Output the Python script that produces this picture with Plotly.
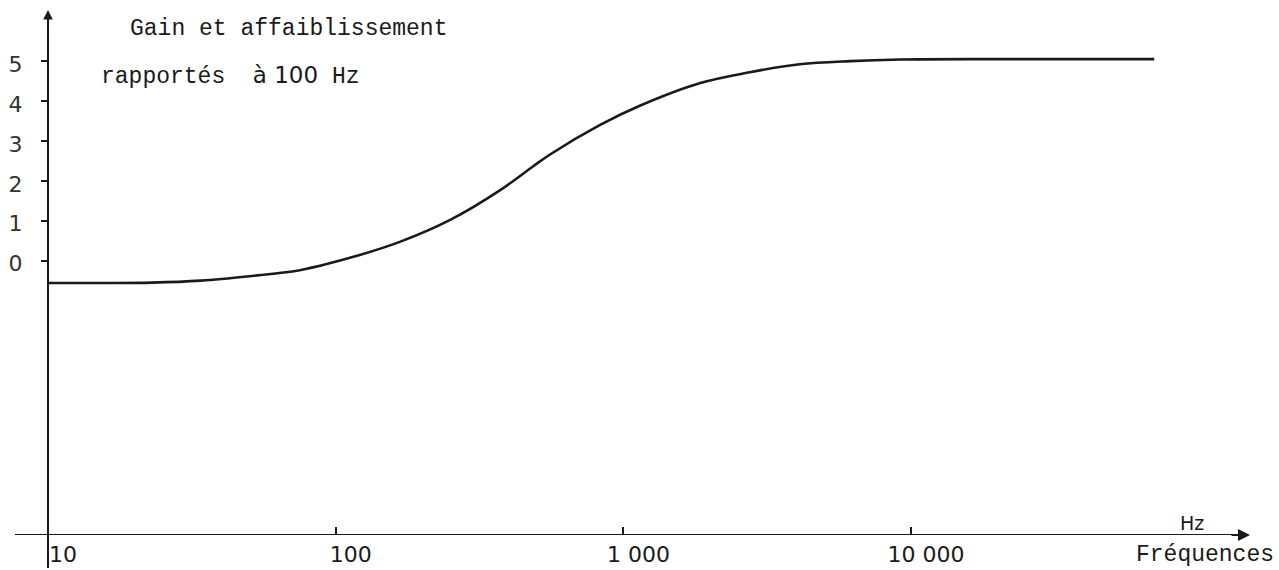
import plotly.graph_objects as go

# Data (frequency in Hz, gain in dB relative to 100 Hz)
freq_hz = [10, 15, 23, 34, 50, 75, 112, 167, 250, 372, 485, 556, 830, 1140,
           1850, 2750, 4100, 6150, 9150, 20000, 70000]
gain_db = [-0.56, -0.56, -0.55, -0.50, -0.39, -0.24, 0.07, 0.47, 1.02, 1.76,
           2.36, 2.66, 3.40, 3.88, 4.45, 4.72, 4.92, 5.00, 5.04, 5.05, 5.05]

x_tick_vals = [10, 100, 1000, 10000]
x_tick_text = ["10", "100", "1 000", "10 000"]
y_tick_vals = [0, 1, 2, 3, 4, 5]
y_tick_text = ["0", "1", "2", "3", "4", "5"]

INK = "#1a1a1a"
MONO = "Liberation Mono, Courier New, monospace"
SANS = "DejaVu Sans, Liberation Sans, sans-serif"

W, H = 1279, 570
L, R, T, B = 48, 29, 10, 35
pw, ph = W - L - R, H - T - B


def px(xp):
    return (xp - L) / pw


def py(yp):
    return 1 - (yp - T) / ph


fig = go.Figure()
fig.add_trace(go.Scatter(
    x=freq_hz, y=gain_db, mode="lines",
    line=dict(color=INK, width=2.6, shape="spline", smoothing=1.0),
    hoverinfo="skip", showlegend=False,
))

x_lo, x_hi = 1.0, 5.178
y_lo, y_hi = -6.875, 6.28

fig.update_layout(
    width=W, height=H,
    margin=dict(l=L, r=R, t=T, b=B, autoexpand=False),
    paper_bgcolor="white", plot_bgcolor="white",
    xaxis=dict(
        type="log", range=[x_lo, x_hi], automargin=False,
        tickvals=x_tick_vals, ticktext=x_tick_text,
        ticks="inside", ticklen=8, tickwidth=1.5, tickcolor=INK,
        showline=False, showgrid=False, zeroline=False,
        tickfont=dict(family=SANS, size=22, color=INK),
        ticklabelstandoff=4, ticklabelshift=15,
    ),
    yaxis=dict(
        range=[y_lo, y_hi], automargin=False,
        tickvals=y_tick_vals, ticktext=y_tick_text,
        ticks="outside", ticklen=6, tickwidth=1.5, tickcolor=INK,
        showline=False, showgrid=False, zeroline=False,
        tickfont=dict(family=SANS, size=22, color="#333333"),
        ticklabelstandoff=14, ticklabelshift=3,
    ),
    shapes=[
        # horizontal axis (extends slightly left of the vertical axis)
        dict(type="line", xref="paper", yref="y", x0=px(15), x1=px(1246),
             y0=y_lo, y1=y_lo, line=dict(color=INK, width=2)),
        # vertical axis (extends slightly below the horizontal axis)
        dict(type="line", xref="paper", yref="paper", x0=0, x1=0,
             y0=py(568), y1=py(14), line=dict(color=INK, width=2)),
    ],
    annotations=[
        dict(x=px(1250), y=y_lo, xref="paper", yref="y", ax=-20, ay=0,
             text="", showarrow=True, arrowhead=2, arrowsize=1.2,
             arrowwidth=2, arrowcolor=INK),
        dict(x=0, y=py(10), xref="paper", yref="paper", ax=0, ay=20,
             text="", showarrow=True, arrowhead=2, arrowsize=1.2,
             arrowwidth=1.6, arrowcolor=INK),
        dict(x=px(128), y=py(29), xref="paper", yref="paper",
             text="Gain et affaiblissement",
             showarrow=False, xanchor="left", yanchor="middle",
             font=dict(family=MONO, size=23, color=INK)),
        dict(x=px(99), y=py(76), xref="paper", yref="paper",
             text=("rapportés  <span style='font-family:DejaVu Sans'>à 100</span> Hz"),
             showarrow=False, xanchor="left", yanchor="middle",
             font=dict(family=MONO, size=23, color=INK)),
        dict(x=px(1276), y=py(555), xref="paper", yref="paper", text="Fréquences",
             showarrow=False, xanchor="right", yanchor="middle",
             font=dict(family=MONO, size=23, color=INK)),
        dict(x=px(1192), y=py(523), xref="paper", yref="paper", text="Hz",
             showarrow=False, xanchor="center", yanchor="middle",
             font=dict(family=SANS, size=19, color=INK)),
    ],
)

fig.write_html(
    "out.html",
    config={"displayModeBar": False},
    post_script="document.body.style.margin='0';document.body.style.overflow='hidden';",
)
